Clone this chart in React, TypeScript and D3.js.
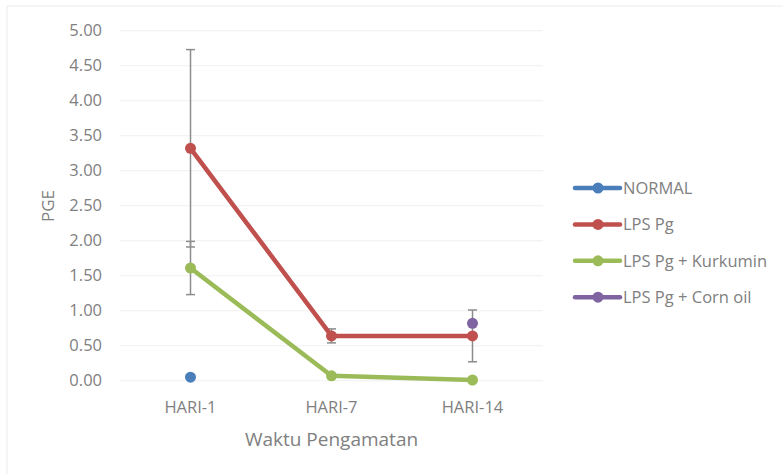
import React, { useEffect, useRef } from "react";
import * as d3 from "d3";

const categories = ["HARI-1", "HARI-7", "HARI-14"];
const yTicks = [0, 0.5, 1, 1.5, 2, 2.5, 3, 3.5, 4, 4.5, 5];

const seriesNames = ["NORMAL", "LPS Pg", "LPS Pg + Kurkumin", "LPS Pg + Corn oil"];
const seriesColors = ["#4a7ebb", "#c0504d", "#9bbb59", "#8064a2"];

// null = no value at that day
const normalValues = [0.05, null, null];
const lpsValues = [3.32, 0.64, 0.64];
const kurkuminValues = [1.61, 0.07, 0.01];
const cornOilValues = [null, null, 0.82];

// error (± standard deviation), null = none drawn
const lpsErrors = [1.41, 0.1, 0.37];
const kurkuminErrors = [0.38, null, null];

const allValues = [normalValues, lpsValues, kurkuminValues, cornOilValues];
const allErrors = [null, lpsErrors, kurkuminErrors, null];

export default function App() {
  const ref = useRef<SVGSVGElement>(null);

  useEffect(() => {
    const svg = d3.select(ref.current);
    svg.selectAll("*").remove();

    const font = "'Open Sans', 'Noto Sans', sans-serif";
    const gray = "#808080";

    const left = 120, right = 543, top = 30.7, bottom = 380.7;

    svg.append("rect").attr("x", 7).attr("y", 6).attr("width", 790).attr("height", 480)
      .attr("fill", "white").attr("stroke", "#ececec").attr("stroke-width", 1);

    const x = d3.scaleBand().domain(categories).range([left, right]);
    const y = d3.scaleLinear().domain([0, 5]).range([bottom, top]);
    const cx = (c: string) => (x(c) as number) + x.bandwidth() / 2;

    // gridlines
    svg.append("g").selectAll("line").data(yTicks).join("line")
      .attr("x1", left).attr("x2", right)
      .attr("y1", d => y(d)).attr("y2", d => y(d))
      .attr("stroke", "#f0f0f0").attr("stroke-width", 1);

    // y tick labels
    svg.append("g").selectAll("text").data(yTicks).join("text")
      .attr("x", 102).attr("y", d => y(d)).attr("dy", "0.35em")
      .attr("text-anchor", "end").attr("fill", gray)
      .style("font-family", font).style("font-size", "16.5px")
      .text(d => d.toFixed(2));

    // x tick labels
    svg.append("g").selectAll("text").data(categories).join("text")
      .attr("x", d => cx(d)).attr("y", 407).attr("dy", "0.35em")
      .attr("text-anchor", "middle").attr("fill", gray)
      .style("font-family", font).style("font-size", "16.5px")
      .text(d => d);

    svg.append("text").attr("x", 331.5).attr("y", 439).attr("dy", "0.35em")
      .attr("text-anchor", "middle").attr("fill", gray)
      .style("font-family", font).style("font-size", "19px")
      .text("Waktu Pengamatan");

    svg.append("text").attr("transform", "translate(48,206) rotate(-90)").attr("dy", "0.35em")
      .attr("text-anchor", "middle").attr("fill", gray)
      .style("font-family", font).style("font-size", "17px")
      .text("PGE");

    // error bars
    const errG = svg.append("g");
    allErrors.forEach((errs, si) => {
      if (!errs) return;
      errs.forEach((e, i) => {
        const v = allValues[si][i];
        if (e == null || v == null) return;
        const px = cx(categories[i]);
        errG.append("line").attr("x1", px).attr("x2", px)
          .attr("y1", y(v + e)).attr("y2", y(v - e))
          .attr("stroke", "#8c8c8c").attr("stroke-width", 1.5);
        [v + e, v - e].forEach(t => {
          errG.append("line").attr("x1", px - 4.5).attr("x2", px + 4.5)
            .attr("y1", y(t)).attr("y2", y(t))
            .attr("stroke", "#8c8c8c").attr("stroke-width", 1.5);
        });
      });
    });

    // lines + markers
    const line = d3.line<number | null>()
      .defined(d => d != null)
      .x((d, i) => cx(categories[i]))
      .y(d => y(d as number));

    allValues.forEach((vals, si) => {
      svg.append("path").datum(vals).attr("d", line)
        .attr("fill", "none").attr("stroke", seriesColors[si])
        .attr("stroke-width", 4.5).attr("stroke-linejoin", "round");
      svg.append("g").selectAll("circle")
        .data(vals.map((v, i) => ({ v, c: categories[i] })).filter(d => d.v != null))
        .join("circle")
        .attr("cx", d => cx(d.c)).attr("cy", d => y(d.v as number))
        .attr("r", 5.5).attr("fill", seriesColors[si]);
    });

    // legend
    const lg = svg.append("g").selectAll("g").data(seriesNames).join("g")
      .attr("transform", (d, i) => `translate(575,${188 + i * 36.4})`);
    lg.append("line").attr("x1", 0).attr("x2", 45).attr("y1", 0).attr("y2", 0)
      .attr("stroke", (d, i) => seriesColors[i]).attr("stroke-width", 4.5)
      .attr("stroke-linecap", "round");
    lg.append("circle").attr("cx", 23).attr("cy", 0).attr("r", 5.5)
      .attr("fill", (d, i) => seriesColors[i]);
    lg.append("text").attr("x", 48).attr("y", 0).attr("dy", "0.35em")
      .attr("fill", gray).style("font-family", font).style("font-size", "16.5px")
      .text(d => d);
  }, []);

  return (
    <svg ref={ref} width={783} height={474}
      style={{ position: "absolute", left: 0, top: 0, background: "white" }} />
  );
}
